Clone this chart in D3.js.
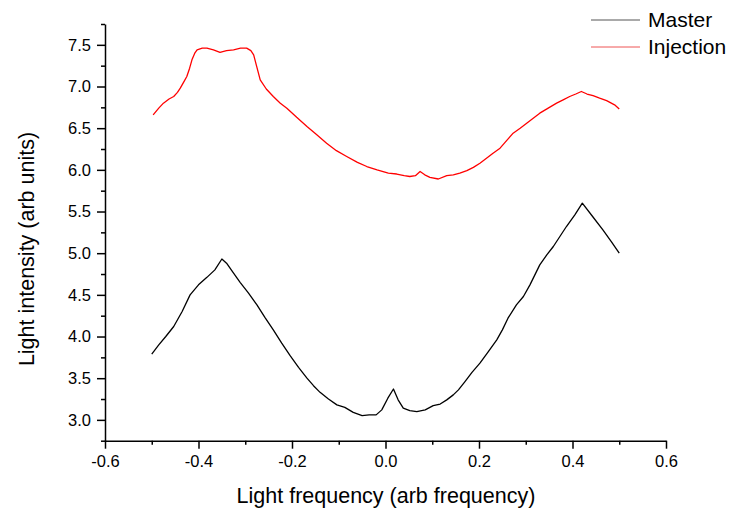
<!DOCTYPE html>
<html lang="en">
  <head>
    <meta charset="UTF-8" />
    <title>Light intensity vs frequency</title>
    <script src="https://d3js.org/d3.v7.min.js"></script>
    <style>
      body { margin: 0; background: #fff; }
      text { font-family: Arial, "Liberation Sans", sans-serif; fill: #000; }
    </style>
  </head>
  <body>
    <svg width="731" height="511"></svg>

    <script>
      // data
      const masterX = [-0.500, -0.485, -0.470, -0.453, -0.435, -0.418, -0.400, -0.382, -0.365, -0.350,
        -0.340, -0.325, -0.311, -0.293, -0.275, -0.258, -0.240, -0.222, -0.204, -0.186,
        -0.168, -0.154, -0.140, -0.122, -0.104, -0.087, -0.069, -0.050, -0.035, -0.020,
        -0.008, 0.005, 0.017, 0.027, 0.038, 0.052, 0.067, 0.085, 0.102, 0.117,
        0.131, 0.145, 0.156, 0.170, 0.185, 0.202, 0.220, 0.238, 0.250, 0.262,
        0.280, 0.295, 0.309, 0.330, 0.345, 0.359, 0.373, 0.387, 0.405, 0.421,
        0.443, 0.465, 0.483, 0.500];
      const masterY = [3.79, 3.90, 4.00, 4.12, 4.30, 4.50, 4.62, 4.71, 4.80, 4.93,
        4.88, 4.76, 4.65, 4.52, 4.38, 4.23, 4.08, 3.92, 3.77, 3.63,
        3.50, 3.41, 3.33, 3.25, 3.18, 3.15, 3.09, 3.05, 3.06, 3.06,
        3.12, 3.26, 3.37, 3.24, 3.14, 3.11, 3.10, 3.12, 3.17, 3.19,
        3.24, 3.30, 3.36, 3.46, 3.57, 3.68, 3.82, 3.96, 4.08, 4.22,
        4.38, 4.48, 4.62, 4.86, 4.98, 5.08, 5.20, 5.32, 5.46, 5.60,
        5.44, 5.28, 5.14, 5.00];

      const injectionX = [-0.497, -0.485, -0.475, -0.463, -0.453, -0.445, -0.439, -0.432, -0.425, -0.419,
        -0.414, -0.408, -0.403, -0.392, -0.382, -0.368, -0.354, -0.340, -0.325, -0.310,
        -0.297, -0.288, -0.282, -0.276, -0.268, -0.255, -0.240, -0.225, -0.211, -0.190,
        -0.168, -0.147, -0.126, -0.105, -0.083, -0.060, -0.040, -0.018, 0.006, 0.024,
        0.040, 0.052, 0.064, 0.074, 0.084, 0.095, 0.113, 0.131, 0.145, 0.159,
        0.174, 0.188, 0.202, 0.216, 0.230, 0.245, 0.259, 0.273, 0.288, 0.302,
        0.316, 0.330, 0.348, 0.366, 0.380, 0.394, 0.407, 0.419, 0.431, 0.444,
        0.458, 0.473, 0.490, 0.500];
      const injectionY = [6.66, 6.74, 6.80, 6.85, 6.88, 6.93, 6.98, 7.05, 7.12, 7.22,
        7.32, 7.40, 7.44, 7.46, 7.46, 7.44, 7.41, 7.43, 7.44, 7.46,
        7.46, 7.43, 7.38, 7.25, 7.08, 6.97, 6.88, 6.80, 6.74, 6.63,
        6.52, 6.42, 6.32, 6.23, 6.16, 6.09, 6.04, 6.00, 5.96, 5.95,
        5.93, 5.92, 5.93, 5.98, 5.94, 5.91, 5.89, 5.93, 5.94, 5.96,
        5.99, 6.03, 6.08, 6.14, 6.20, 6.26, 6.35, 6.44, 6.50, 6.56,
        6.62, 6.68, 6.74, 6.80, 6.84, 6.88, 6.91, 6.94, 6.91, 6.89,
        6.86, 6.83, 6.78, 6.73];

      const xTicks = [-0.6, -0.4, -0.2, 0.0, 0.2, 0.4, 0.6];
      const xMinor = [-0.5, -0.3, -0.1, 0.1, 0.3, 0.5];
      const yTicks = [3.0, 3.5, 4.0, 4.5, 5.0, 5.5, 6.0, 6.5, 7.0, 7.5];
      const yMinor = [2.75, 3.25, 3.75, 4.25, 4.75, 5.25, 5.75, 6.25, 6.75, 7.25, 7.75];

      const seriesNames = ["Master", "Injection"];
      const seriesColors = ["#000000", "#ff0000"];

      const svg = d3.select("svg");

      const x = d3.scaleLinear().domain([-0.6, 0.6]).range([105, 666]);
      const y = d3.scaleLinear().domain([2.75, 7.75]).range([440.7, 24]);

      const fmt = (d) => d.toFixed(1);

      // minor ticks first, then major axis on top
      const xMinorAxis = svg.append("g")
        .attr("transform", `translate(0,${y.range()[0]})`)
        .call(d3.axisBottom(x).tickValues(xMinor).tickSize(4).tickFormat(""));
      xMinorAxis.select(".domain").remove();

      const xAxis = svg.append("g")
        .attr("transform", `translate(0,${y.range()[0]})`)
        .call(d3.axisBottom(x).tickValues(xTicks).tickSize(8).tickSizeOuter(0).tickPadding(7).tickFormat(fmt));

      const yMinorAxis = svg.append("g")
        .attr("transform", `translate(${x.range()[0]},0)`)
        .call(d3.axisLeft(y).tickValues(yMinor).tickSize(4).tickFormat(""));
      yMinorAxis.select(".domain").remove();

      const yAxis = svg.append("g")
        .attr("transform", `translate(${x.range()[0]},0)`)
        .call(d3.axisLeft(y).tickValues(yTicks).tickSize(8).tickSizeOuter(0).tickPadding(6).tickFormat(fmt));

      svg.selectAll(".domain, .tick line")
        .attr("stroke", "#000")
        .attr("stroke-width", 1.5);
      svg.selectAll(".tick text")
        .attr("font-size", 16.5)
        .attr("font-family", "Arial, 'Liberation Sans', sans-serif")
        .attr("fill", "#000");

      // axis titles
      svg.append("text")
        .attr("x", 386)
        .attr("y", 503)
        .attr("text-anchor", "middle")
        .attr("font-size", 21.5)
        .text("Light frequency (arb frequency)");

      svg.append("text")
        .attr("transform", "translate(34,249) rotate(-90)")
        .attr("text-anchor", "middle")
        .attr("font-size", 21.5)
        .text("Light intensity (arb units)");

      // curves
      const line = d3.line()
        .x((d) => x(d[0]))
        .y((d) => y(d[1]));

      const seriesData = [
        d3.zip(masterX, masterY),
        d3.zip(injectionX, injectionY)
      ];

      svg.append("g")
        .selectAll("path")
        .data(seriesData)
        .join("path")
        .attr("d", line)
        .attr("fill", "none")
        .attr("stroke", (d, i) => seriesColors[i])
        .attr("stroke-width", 1.3)
        .attr("stroke-linejoin", "round");

      // legend
      const legend = svg.append("g").attr("transform", "translate(591,20)");
      const item = legend.selectAll("g")
        .data(seriesNames)
        .join("g")
        .attr("transform", (d, i) => `translate(0,${i * 27})`);

      item.append("line")
        .attr("x1", 0)
        .attr("x2", 49)
        .attr("stroke", (d, i) => (i === 0 ? "#555" : "#e55"))
        .attr("stroke-width", 1);

      item.append("text")
        .attr("x", 57)
        .attr("dy", "0.35em")
        .attr("font-size", 21)
        .text((d) => d);
    </script>
  </body>
</html>
